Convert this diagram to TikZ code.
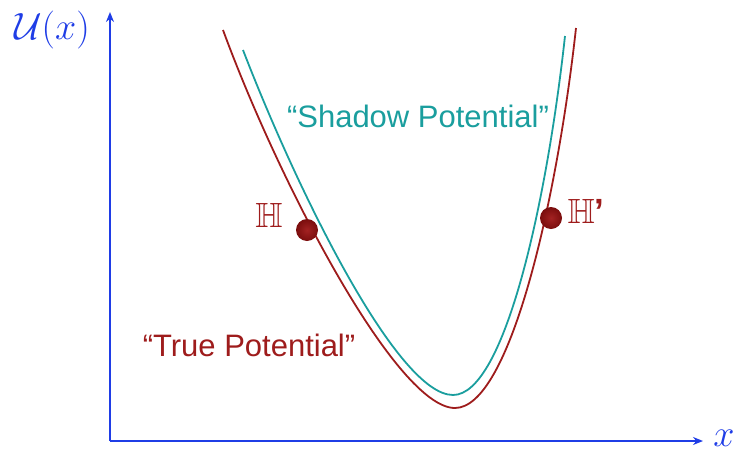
\RequirePackage{fix-cm}
\documentclass[tikz,border=0pt]{standalone}
\usepackage{amssymb}
\usepackage{fontspec}
\setmainfont{Liberation Sans}
\usetikzlibrary{arrows.meta}
\definecolor{axisblue}{HTML}{1F3DE6}
\definecolor{truered}{HTML}{9E1C1C}
\definecolor{shadowteal}{HTML}{1A9E9E}
\definecolor{dotin}{HTML}{A32222}
\definecolor{dotout}{HTML}{7A0D0D}
\tikzset{
  axisline/.style={axisblue, line width=1.6pt, -{Stealth[length=10pt,width=8pt]}},
  truecurve/.style={truered, line width=1.8pt},
  shadowcurve/.style={shadowteal, line width=1.8pt},
  ballpt/.style={circle, minimum size=22pt, inner sep=0pt, shading=radial, inner color=dotin, outer color=dotout},
  hlabel/.style={text=truered, font=\fontsize{35}{35}\selectfont},
}
\begin{document}
\begin{tikzpicture}[x=1pt,y=-1pt]
\useasboundingbox (0,0) rectangle (737,453);
\coordinate (origin) at (110,441);
\coordinate (ytip) at (110,12);
\coordinate (xtip) at (703,441);
\draw[axisline] (origin) -- (ytip);
\draw[axisline] (origin) -- (xtip);
\node[axisblue, font=\fontsize{38}{38}\selectfont, inner sep=1pt] (ulabel) at (52,30) {$\mathcal{U}(x)$};
\node[axisblue, font=\fontsize{38}{38}\selectfont, inner sep=1pt] (xlabel) at (724,438) {$x$};
\draw[truecurve] (223,30) .. controls (280,185) and (397,408) .. (455,408)
                          .. controls (510,408) and (557,200) .. (576,28);
\draw[shadowcurve] (243,50) .. controls (299,195) and (398,395) .. (453,395)
                            .. controls (505,395) and (547,200) .. (565,36);
\node[ballpt] (hdot) at (307,230) {};
\node[ballpt] (hpdot) at (551,218) {};
\node[hlabel] (hlab) at (269,215) {$\mathbb{H}$};
\node[hlabel] (hplab) at (586,211) {$\mathbb{H}$\textbf{’}};
\node[text=shadowteal, font=\fontsize{31}{31}\selectfont] (shadow) at (418,116) {“Shadow Potential”};
\node[text=truered, font=\fontsize{31}{31}\selectfont] (truelab) at (249,345) {“True Potential”};
\end{tikzpicture}
\end{document}
